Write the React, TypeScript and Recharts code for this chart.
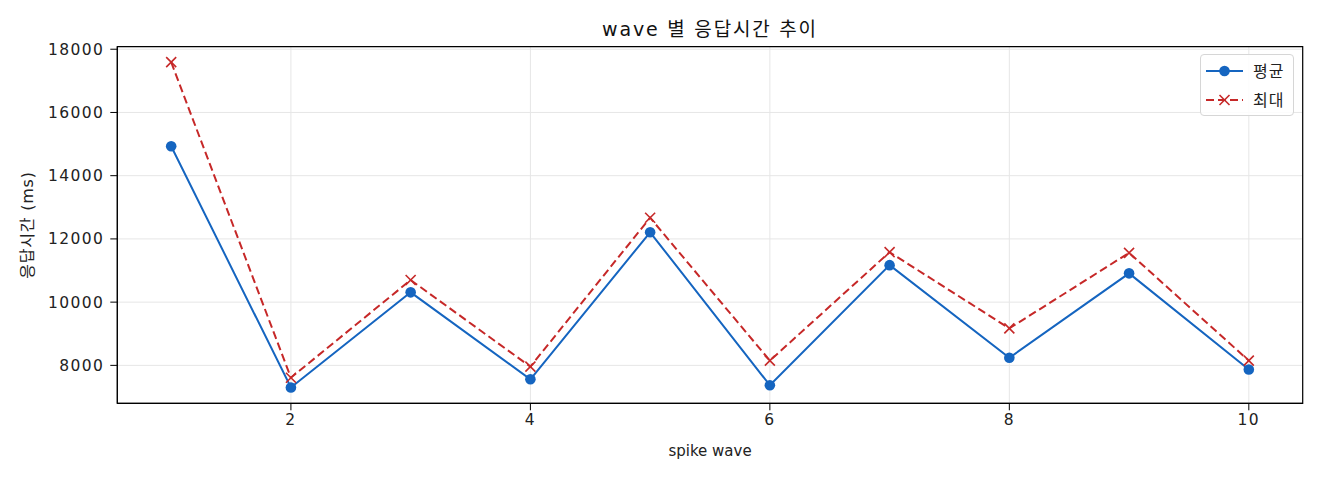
import React from 'react';
import { LineChart, Line, XAxis, YAxis, CartesianGrid, ReferenceArea } from 'recharts';

const waves = [1, 2, 3, 4, 5, 6, 7, 8, 9, 10];
const avgMs = [14930, 7300, 10310, 7560, 12210, 7370, 11170, 8240, 10910, 7870];
const maxMs = [17590, 7610, 10700, 7960, 12670, 8150, 11580, 9170, 11560, 8150];
const xTicks = [2, 4, 6, 8, 10];
const yTicks = [8000, 10000, 12000, 14000, 16000, 18000];
const seriesNames = ['평균', '최대'];

const data = waves.map((w, i) => ({ wave: w, avg: avgMs[i], max: maxMs[i] }));

const BLUE = '#1565C0';
const RED = '#C62828';
const FONT = '"DejaVu Sans", "Noto Sans CJK KR", sans-serif';
const KFONT = '"Noto Sans CJK KR", "DejaVu Sans", sans-serif';

const W = 1304;
const H = 464;
const M = { top: 38.7, right: 9.3, left: 0, bottom: 28.7 };
const YW = 109.3;
const XH = 40;

const XDot = (props: any) => {
  const { cx, cy } = props;
  if (cx == null || cy == null) return null;
  const s = 5;
  return (
    <g key={`x-${cx}`}>
      <line x1={cx - s} y1={cy - s} x2={cx + s} y2={cy + s} stroke={RED} strokeWidth={1.6} />
      <line x1={cx - s} y1={cy + s} x2={cx + s} y2={cy - s} stroke={RED} strokeWidth={1.6} />
    </g>
  );
};

const LegendBox = () => (
  <div
    style={{
      position: 'absolute',
      left: 1192,
      top: 46,
      width: 92,
      height: 60,
      border: '1px solid #d6d6d6',
      borderRadius: 4,
      background: 'rgba(255,255,255,0.85)',
      fontFamily: KFONT,
      fontSize: 16,
      letterSpacing: 1,
      color: '#222',
    }}
  >
    <svg width={40} height={60} style={{ position: 'absolute', left: 4, top: 0 }}>
      <line x1={1} y1={16} x2={38} y2={16} stroke={BLUE} strokeWidth={2} />
      <circle cx={19.5} cy={16} r={5.3} fill={BLUE} />
      <line x1={1} y1={45} x2={38} y2={45} stroke={RED} strokeWidth={2} strokeDasharray="8 4" />
      <line x1={14.5} y1={40} x2={24.5} y2={50} stroke={RED} strokeWidth={1.6} />
      <line x1={14.5} y1={50} x2={24.5} y2={40} stroke={RED} strokeWidth={1.6} />
    </svg>
    <div style={{ position: 'absolute', left: 52, top: 5, lineHeight: '20px' }}>{seriesNames[0]}</div>
    <div style={{ position: 'absolute', left: 52, top: 34, lineHeight: '20px' }}>{seriesNames[1]}</div>
  </div>
);

const tickStyle = { fontSize: 15.5, fill: '#222', fontFamily: FONT, letterSpacing: 1.4 };

export default function App() {
  return (
    <div style={{ position: 'relative', width: W, height: H }}>
      <LineChart width={W} height={H} data={data} margin={M}>
        <CartesianGrid stroke="#e6e6e6" strokeWidth={1} />
        <XAxis
          dataKey="wave"
          type="number"
          domain={[0.55, 10.45]}
          ticks={xTicks}
          allowDataOverflow
          height={XH}
          tickSize={7}
          tickMargin={4}
          axisLine={{ stroke: '#000' }}
          tickLine={{ stroke: '#000' }}
          tick={tickStyle}
        />
        <YAxis
          type="number"
          domain={[6800, 18080]}
          ticks={yTicks}
          allowDataOverflow
          width={YW}
          tickSize={7}
          tickMargin={6}
          axisLine={{ stroke: '#000' }}
          tickLine={{ stroke: '#000' }}
          tick={tickStyle}
        />
        <ReferenceArea
          x1={0.55}
          x2={10.45}
          y1={6800}
          y2={18080}
          fill="none"
          stroke="#000"
          strokeWidth={1.2}
          ifOverflow="visible"
        />
        <Line
          dataKey="avg"
          name={seriesNames[0]}
          stroke={BLUE}
          strokeWidth={2}
          dot={{ r: 5.3, fill: BLUE, stroke: BLUE, strokeWidth: 0 }}
          activeDot={false}
          isAnimationActive={false}
        />
        <Line
          dataKey="max"
          name={seriesNames[1]}
          stroke={RED}
          strokeWidth={2}
          strokeDasharray="8 4"
          dot={<XDot />}
          activeDot={false}
          isAnimationActive={false}
        />
      </LineChart>
      <LegendBox />
      <svg
        width={W}
        height={H}
        style={{ position: 'absolute', left: 0, top: 0, pointerEvents: 'none' }}
      >
        <text x={702} y={21} textAnchor="middle" dominantBaseline="central" fontFamily={FONT} fontSize={19} letterSpacing={1.8} fill="#111">
          wave 별 응답시간 추이
        </text>
        <text x={702} y={443} textAnchor="middle" dominantBaseline="central" fontFamily={FONT} fontSize={15} fill="#222">
          spike wave
        </text>
        <text
          x={19}
          y={217}
          textAnchor="middle"
          dominantBaseline="central"
          fontFamily={FONT}
          fontSize={16}
          letterSpacing={0.8}
          fill="#222"
          transform="rotate(-90 19 217)"
        >
          응답시간 (ms)
        </text>
      </svg>
    </div>
  );
}
